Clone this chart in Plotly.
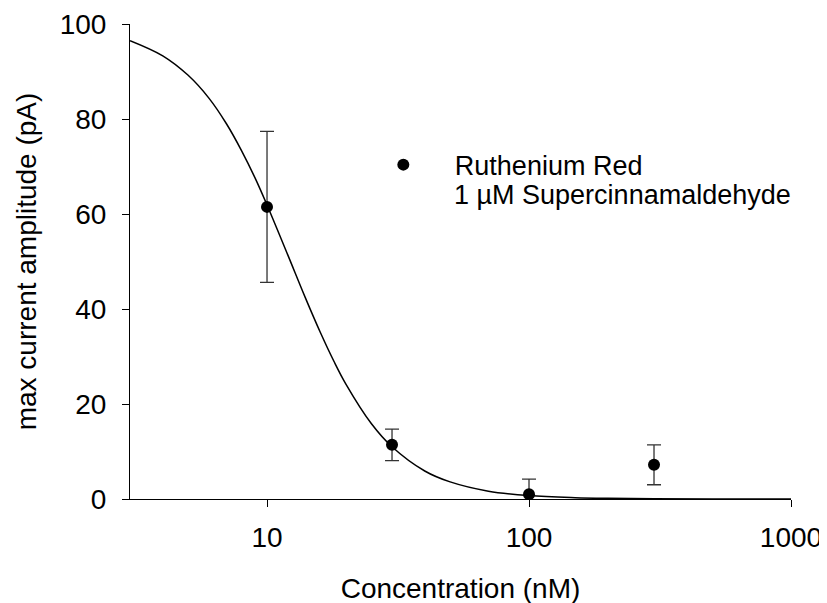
import plotly.graph_objects as go

conc_nM = [10, 30, 100, 300]
amp_pA = [61.5, 11.4, 1.0, 7.2]
err_pA = [15.9, 3.3, 3.2, 4.2]

curve_x = [3, 4, 5, 6, 7, 8, 9, 10, 12, 14, 16, 18, 20, 25, 30, 40, 50, 70,
           100, 150, 200, 300, 500, 1000]
curve_y = [96.5, 93.3, 89.2, 84.4, 79.0, 73.3, 67.6, 61.9, 51.4, 42.4, 35.0,
           29.0, 24.2, 15.9, 11.0, 5.9, 3.6, 1.65, 0.72, 0.28, 0.14, 0.06,
           0.02, 0.0]

x_ticks = [10, 100, 1000]
x_tick_labels = ["10", "100", "1000"]
y_ticks = [0, 20, 40, 60, 80, 100]

series_name = "Ruthenium Red"
second_line = "1 \u00b5M Supercinnamaldehyde"

FONT = "Liberation Sans, Arial, sans-serif"

fig = go.Figure()
fig.add_trace(go.Scatter(
    x=curve_x, y=curve_y, mode="lines", line=dict(color="black", width=1.5, shape="spline"),
    showlegend=False, hoverinfo="skip"))
fig.add_trace(go.Scatter(
    x=conc_nM, y=amp_pA, mode="markers", name=series_name,
    marker=dict(color="black", size=12),
    error_y=dict(type="data", array=err_pA, color="#333333", thickness=1.3, width=7),
    cliponaxis=True))

fig.add_annotation(text=second_line, xref="paper", yref="paper",
                   x=0.487, y=0.64, xanchor="left", yanchor="middle",
                   showarrow=False, font=dict(family=FONT, size=27, color="black"))

fig.update_layout(
    width=827, height=603,
    margin=dict(l=122, r=44, t=16, b=112, autoexpand=False),
    paper_bgcolor="white", plot_bgcolor="white",
    font=dict(family=FONT, size=28, color="black"),
    legend=dict(x=0.3356, y=0.703, xanchor="left", yanchor="middle",
                font=dict(family=FONT, size=27, color="black"),
                bgcolor="rgba(0,0,0,0)", itemwidth=93),
    showlegend=True,
)
fig.update_xaxes(
    type="log", range=[0.477, 3.0], automargin=False,
    tickvals=x_ticks, ticktext=x_tick_labels,
    ticks="outside", ticklen=7, tickwidth=1, tickcolor="black",
    showline=True, linecolor="black", linewidth=1,
    showgrid=False, zeroline=False, ticklabelstandoff=6,
    title=dict(text="Concentration (nM)", standoff=26, font=dict(size=28)),
)
fig.update_yaxes(
    range=[0, 100], tickvals=y_ticks, automargin=False,
    ticks="outside", ticklen=7, tickwidth=1, tickcolor="black",
    showline=True, linecolor="black", linewidth=1,
    showgrid=False, zeroline=False, ticklabelstandoff=10,
    title=dict(text="max current amplitude (pA)", standoff=14, font=dict(size=28)),
)

fig.write_html("out.html")
